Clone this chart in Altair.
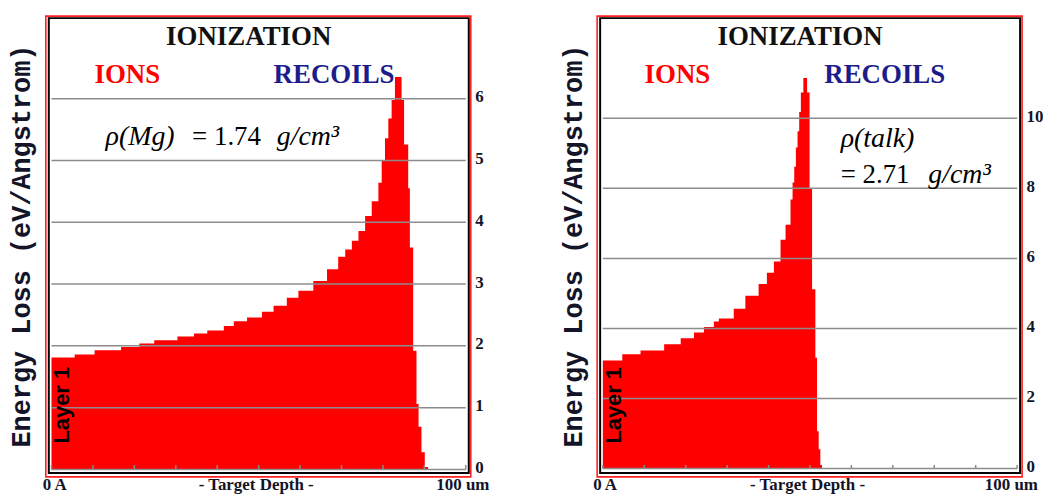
import altair as alt
import pandas as pd

# ---------------- data ----------------
# Left panel: Mg target (depth in % of the 100 um window, energy loss eV/Angstrom)
mg_depth = [0, 5.6, 10.4, 16.8, 21.2, 24.8, 30.4, 34.4, 37.6, 41.6, 44, 47.2, 50.8, 53.6,
            56.8, 59.6, 63.2, 66.5, 69.2, 70.9, 72.5, 74.1, 75.7, 77.3, 78.9, 79.7, 80.5,
            81.3, 82.1, 82.9, 84.5, 85.1, 86.1, 86.5, 87.3, 88.1, 88.6, 89.3, 90.1, 90.9]
mg_loss = [1.81, 1.86, 1.93, 1.98, 2.04, 2.09, 2.15, 2.20, 2.25, 2.32, 2.40, 2.46, 2.55, 2.65,
           2.78, 2.89, 3.05, 3.24, 3.44, 3.56, 3.70, 3.86, 4.10, 4.34, 4.64, 5.00, 5.36,
           5.68, 5.98, 6.35, 5.98, 5.26, 4.55, 3.59, 1.92, 1.06, 0.69, 0.28, 0.04, 0.0]

# Right panel: talc target
talc_depth = [0, 4.7, 9.1, 14.8, 18.8, 22.0, 24.4, 26.8, 28.0, 31.6, 34.4, 37.6, 39.6, 41.3,
              42.9, 44.1, 45.3, 45.8, 46.2, 46.6, 47.0, 47.4, 47.8, 48.4, 49.3, 49.9, 50.5,
              51.3, 51.7, 52.1, 52.5, 52.9]
talc_loss = [3.08, 3.26, 3.37, 3.55, 3.72, 3.88, 4.04, 4.20, 4.28, 4.56, 4.93, 5.27, 5.59, 5.91,
             6.53, 6.96, 7.68, 8.17, 8.62, 9.17, 9.63, 10.18, 10.74, 11.15, 10.74, 7.98, 5.12,
             3.16, 1.06, 0.55, 0.10, 0.0]

mg_yticks = [0, 1, 2, 3, 4, 5, 6]
talc_yticks = [0, 2, 4, 6, 8, 10]
depth_ticks = [0, 10, 20, 30, 40, 50, 60, 70, 80, 90, 100]
x_labels = ["0 A", "- Target Depth -", "100 um"]

W = 422      # panel width (black frame)
HF = 457     # black frame height
H = 479      # view height (frame + bottom label strip)
SERIF = "Liberation Serif"
INK = "#141428"


def text_layer(txt, x, y, size, color=INK, weight="bold", style="normal",
               font=SERIF, align="center", angle=0, baseline="alphabetic", xs=None, ys=None):
    return alt.Chart(pd.DataFrame({"t": [txt]})).mark_text(
        text=txt, fontSize=size, font=font, fontWeight=weight, fontStyle=style,
        color=color, align=align, baseline=baseline, angle=angle
    ).encode(
        x=alt.X(datum=x, scale=xs, axis=None),
        y=alt.Y(datum=y, scale=ys, axis=None),
    )


def panel(depth, loss, yticks, ydom, texts):
    xs = alt.Scale(domain=[-0.65, 100.72], nice=False, zero=False)
    ys = alt.Scale(domain=ydom, nice=False, zero=False)
    df = pd.DataFrame({"depth": depth, "loss": loss})
    one = pd.DataFrame({"k": [0]})

    red_frame = alt.Chart(one).mark_rect(
        fillOpacity=0, stroke="#ff2020", strokeWidth=1.6
    ).encode(x=alt.value(-3), x2=alt.value(W + 2), y=alt.value(-2), y2=alt.value(HF + 4))

    black_frame = alt.Chart(one).mark_rect(
        fillOpacity=0, stroke="#000000", strokeWidth=2
    ).encode(x=alt.value(0), x2=alt.value(W), y=alt.value(0), y2=alt.value(HF))

    area = alt.Chart(df).mark_area(interpolate="step-after", color="#ff0000").encode(
        x=alt.X("depth:Q", scale=xs, axis=None),
        y=alt.Y("loss:Q", scale=ys, axis=alt.Axis(
            orient="left", labels=False, ticks=False, domain=False, grid=False,
            minExtent=0, title="Energy Loss (eV/Angstrom)", titleFont="Liberation Mono",
            titleFontSize=27, titleFontWeight="bold", titleColor=INK, titlePadding=13,
            titleY=HF / 2)),
    )

    grid = alt.Chart(pd.DataFrame({"g": yticks})).mark_rule(
        color="#8c8c8c", strokeWidth=1.5
    ).encode(
        x=alt.X(datum=0, scale=xs, axis=None),
        x2=alt.X2(datum=100),
        y=alt.Y("g:Q", scale=ys, axis=alt.Axis(
            orient="right", values=yticks, ticks=False, domain=False, grid=False,
            labelFont=SERIF, labelFontSize=17, labelFontWeight="bold", labelColor=INK,
            labelPadding=6, labelOffset=-2, title=None, minExtent=0)),
    )

    ticks = alt.Chart(pd.DataFrame({"t": depth_ticks})).mark_rule(
        color="#8c8c8c", strokeWidth=1.5
    ).encode(
        x=alt.X("t:Q", scale=xs, axis=None),
        y=alt.Y(datum=0, scale=ys, axis=None),
        y2=alt.value(HF - 8),
    )

    layers = [red_frame, area, grid, ticks, black_frame]
    for t in texts:
        layers.append(text_layer(xs=xs, ys=ys, **t))

    return alt.layer(*layers).resolve_axis(y="independent").properties(width=W, height=H)


FORM_I = dict(color="#000000", weight="normal", font=SERIF, align="left", size=28,
              style="italic")
FORM_N = dict(color="#000000", weight="normal", font=SERIF, align="left", size=27)
XL = dict(size=17, color=INK)

left_texts = [
    dict(txt="IONIZATION", x=47.6, y=6.868, size=27, color="#111111"),
    dict(txt="IONS", x=18.3, y=6.256, size=27, color="#ff0000"),
    dict(txt="RECOILS", x=68.2, y=6.256, size=27, color="#1c1c8a"),
    dict(txt="ρ(Mg)", x=13.04, y=5.258, **FORM_I),
    dict(txt="= 1.74", x=33.94, y=5.258, **FORM_N),
    dict(txt="g/cm³", x=54.36, y=5.258, **FORM_I),
    dict(txt="Layer 1", x=2.5, y=1.039, size=22, color="#000000", font="Liberation Sans",
         angle=270, baseline="middle"),
    dict(txt=x_labels[0], x=0.79, y=-0.33, **XL),
    dict(txt=x_labels[1], x=49.4, y=-0.33, **XL),
    dict(txt=x_labels[2], x=99.3, y=-0.33, **XL),
]

right_texts = [
    dict(txt="IONIZATION", x=47.6, y=12.095, size=27, color="#111111"),
    dict(txt="IONS", x=18.0, y=11.015, size=27, color="#ff0000"),
    dict(txt="RECOILS", x=68.05, y=11.015, size=27, color="#1c1c8a"),
    dict(txt="ρ(talk)", x=57.41, y=9.18, **FORM_I),
    dict(txt="= 2.71", x=57.41, y=8.15, **FORM_N),
    dict(txt="g/cm³", x=78.55, y=8.15, **FORM_I),
    dict(txt="Layer 1", x=2.64, y=1.805, size=22, color="#000000", font="Liberation Sans",
         angle=270, baseline="middle"),
    dict(txt=x_labels[0], x=0.55, y=-0.611, **XL),
    dict(txt=x_labels[1], x=49.4, y=-0.611, **XL),
    dict(txt=x_labels[2], x=98.6, y=-0.611, **XL),
]

# y domains: top of black frame .. bottom of label strip (uniform px per unit)
left = panel(mg_depth, mg_loss, mg_yticks, [-0.4106, 7.303], left_texts)
right = panel(talc_depth, talc_loss, talc_yticks, [-0.753, 12.862], right_texts)

chart = alt.hconcat(left, right, spacing=132, bounds="flush").properties(
    padding={"left": 0, "top": 6, "right": 0, "bottom": 0},
    background="white",
).configure_view(strokeWidth=0)

chart.save("out.html", embed_options={"renderer": "svg", "actions": False})
